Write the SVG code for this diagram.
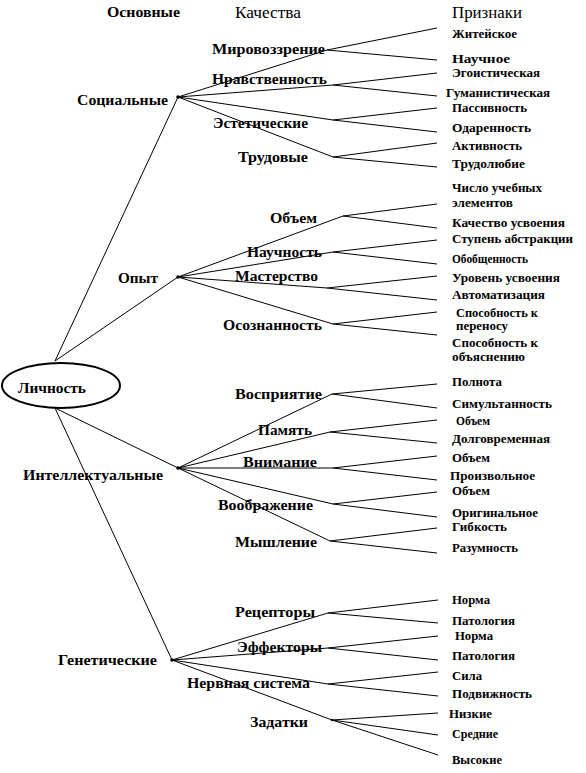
<svg xmlns="http://www.w3.org/2000/svg" width="586" height="773" viewBox="0 0 586 773">
<style>
text{font-family:"Liberation Serif","DejaVu Serif","Times New Roman",serif;fill:#000}
.h{font-size:16px}
.c{font-size:14px;font-weight:bold}
.q{font-size:14px;font-weight:bold}
.a{font-size:12px;font-weight:bold}
.ln{fill:none;stroke:#000;stroke-width:1}
.dot{fill:#000}
</style>
<rect width="586" height="773" fill="#fff"/>
<g id="headers">
<text class="c" x="107" y="17" textLength="73" lengthAdjust="spacingAndGlyphs">Основные</text>
<text class="h" x="235" y="18" textLength="66" lengthAdjust="spacingAndGlyphs">Качества</text>
<text class="h" x="452" y="18" textLength="70" lengthAdjust="spacingAndGlyphs">Признаки</text>
</g>
<g id="connectors">
<path class="ln" d="M55,361 L178,97 M55,361 L178,277 M55,408 L178,468 M55,408 L172,660"/>
<path class="ln" d="M178,97 L327,50 M437,28 L327,50 L437,60 M178,97 L333,85 M437,73 L333,85 L437,96 M178,97 L333,120 M437,108 L333,120 L437,132 M178,97 L333,157 M437,143 L333,157 L437,167"/>
<path class="ln" d="M178,277 L343,216 M437,204 L343,216 L437,228 M178,277 L333,252 M437,240 L333,252 L437,264 M178,277 L327,288 M437,276 L327,288 L437,300 M178,277 L333,324 M437,312 L333,324 L437,335"/>
<path class="ln" d="M178,468 L332,394 M437,384 L332,394 L437,408 M178,468 L330,432 M437,420 L330,432 L437,443 M178,468 L333,468 M437,456 L333,468 L437,480 M178,468 L333,504 M437,492 L333,504 L437,517 M178,468 L330,541 M437,528 L330,541 L437,553"/>
<path class="ln" d="M172,660 L328,613 M438,600 L328,613 L438,623 M172,660 L328,648 M438,636 L328,648 L438,660 M172,660 L328,684 M438,672 L328,684 L438,696 M172,660 L332,720 M438,713 L332,720 L438,735 M332,720 L438,755"/>
<circle class="dot" cx="178" cy="97" r="1.8"/>
<circle class="dot" cx="178" cy="277" r="1.8"/>
<circle class="dot" cx="178" cy="468" r="1.8"/>
<circle class="dot" cx="172" cy="660" r="1.8"/>
<circle class="dot" cx="332" cy="720" r="1.3"/>
</g>
<g id="lichnost">
<ellipse cx="61" cy="385.5" rx="59" ry="22.5" fill="none" stroke="#000" stroke-width="2"/>
<text class="q" x="18" y="393" textLength="68" lengthAdjust="spacingAndGlyphs">Личность</text>
</g>
<g id="socialnye">
<text class="c" x="77" y="105" textLength="91" lengthAdjust="spacingAndGlyphs">Социальные</text>
<text class="q" x="212" y="54" textLength="113" lengthAdjust="spacingAndGlyphs">Мировоззрение</text>
<text class="q" x="212" y="84" textLength="115" lengthAdjust="spacingAndGlyphs">Нравственность</text>
<text class="q" x="213" y="128" textLength="95" lengthAdjust="spacingAndGlyphs">Эстетические</text>
<text class="q" x="238" y="162" textLength="70" lengthAdjust="spacingAndGlyphs">Трудовые</text>
<text class="a" x="452" y="38" textLength="65" lengthAdjust="spacingAndGlyphs">Житейское</text>
<text class="a" x="452" y="63" textLength="58" lengthAdjust="spacingAndGlyphs">Научное</text>
<text class="a" x="452" y="77" textLength="88" lengthAdjust="spacingAndGlyphs">Эгоистическая</text>
<text class="a" x="446" y="97" textLength="104" lengthAdjust="spacingAndGlyphs">Гуманистическая</text>
<text class="a" x="452" y="112" textLength="75" lengthAdjust="spacingAndGlyphs">Пассивность</text>
<text class="a" x="452" y="132" textLength="79" lengthAdjust="spacingAndGlyphs">Одаренность</text>
<text class="a" x="452" y="150" textLength="70" lengthAdjust="spacingAndGlyphs">Активность</text>
<text class="a" x="452" y="168" textLength="73" lengthAdjust="spacingAndGlyphs">Трудолюбие</text>
</g>
<g id="opyt">
<text class="c" x="118" y="283" textLength="40" lengthAdjust="spacingAndGlyphs">Опыт</text>
<text class="q" x="270" y="223" textLength="47" lengthAdjust="spacingAndGlyphs">Объем</text>
<text class="q" x="247" y="257" textLength="75" lengthAdjust="spacingAndGlyphs">Научность</text>
<text class="q" x="235" y="281" textLength="83" lengthAdjust="spacingAndGlyphs">Мастерство</text>
<text class="q" x="223" y="330" textLength="99" lengthAdjust="spacingAndGlyphs">Осознанность</text>
<text class="a" x="452" y="192" textLength="90" lengthAdjust="spacingAndGlyphs">Число учебных</text>
<text class="a" x="452" y="207" textLength="61" lengthAdjust="spacingAndGlyphs">элементов</text>
<text class="a" x="452" y="227" textLength="113" lengthAdjust="spacingAndGlyphs">Качество усвоения</text>
<text class="a" x="452" y="243" textLength="121" lengthAdjust="spacingAndGlyphs">Ступень абстракции</text>
<text class="a" x="452" y="263" textLength="76" lengthAdjust="spacingAndGlyphs">Обобщенность</text>
<text class="a" x="452" y="282" textLength="108" lengthAdjust="spacingAndGlyphs">Уровень усвоения</text>
<text class="a" x="452" y="299" textLength="93" lengthAdjust="spacingAndGlyphs">Автоматизация</text>
<text class="a" x="456" y="317" textLength="82" lengthAdjust="spacingAndGlyphs">Способность к</text>
<text class="a" x="456" y="330" textLength="52" lengthAdjust="spacingAndGlyphs">переносу</text>
<text class="a" x="452" y="347" textLength="86" lengthAdjust="spacingAndGlyphs">Способность к</text>
<text class="a" x="452" y="361" textLength="73" lengthAdjust="spacingAndGlyphs">объяснению</text>
</g>
<g id="intellektualnye">
<text class="c" x="23" y="480" textLength="140" lengthAdjust="spacingAndGlyphs">Интеллектуальные</text>
<text class="q" x="235" y="399" textLength="87" lengthAdjust="spacingAndGlyphs">Восприятие</text>
<text class="q" x="258" y="435" textLength="54" lengthAdjust="spacingAndGlyphs">Память</text>
<text class="q" x="243" y="467" textLength="74" lengthAdjust="spacingAndGlyphs">Внимание</text>
<text class="q" x="218" y="510" textLength="95" lengthAdjust="spacingAndGlyphs">Воображение</text>
<text class="q" x="235" y="547" textLength="82" lengthAdjust="spacingAndGlyphs">Мышление</text>
<text class="a" x="452" y="386" textLength="50" lengthAdjust="spacingAndGlyphs">Полнота</text>
<text class="a" x="452" y="408" textLength="100" lengthAdjust="spacingAndGlyphs">Симультанность</text>
<text class="a" x="456" y="425" textLength="34" lengthAdjust="spacingAndGlyphs">Объем</text>
<text class="a" x="452" y="443" textLength="98" lengthAdjust="spacingAndGlyphs">Долговременная</text>
<text class="a" x="452" y="462" textLength="38" lengthAdjust="spacingAndGlyphs">Объем</text>
<text class="a" x="450" y="480" textLength="85" lengthAdjust="spacingAndGlyphs">Произвольное</text>
<text class="a" x="452" y="495" textLength="38" lengthAdjust="spacingAndGlyphs">Объем</text>
<text class="a" x="452" y="517" textLength="86" lengthAdjust="spacingAndGlyphs">Оригинальное</text>
<text class="a" x="452" y="531" textLength="55" lengthAdjust="spacingAndGlyphs">Гибкость</text>
<text class="a" x="452" y="552" textLength="66" lengthAdjust="spacingAndGlyphs">Разумность</text>
</g>
<g id="geneticheskie">
<text class="c" x="58" y="665" textLength="99" lengthAdjust="spacingAndGlyphs">Генетические</text>
<text class="q" x="235" y="617" textLength="80" lengthAdjust="spacingAndGlyphs">Рецепторы</text>
<text class="q" x="237" y="652" textLength="85" lengthAdjust="spacingAndGlyphs">Эффекторы</text>
<text class="q" x="187" y="688" textLength="123" lengthAdjust="spacingAndGlyphs">Нервная система</text>
<text class="q" x="250" y="727" textLength="58" lengthAdjust="spacingAndGlyphs">Задатки</text>
<text class="a" x="452" y="604" textLength="38" lengthAdjust="spacingAndGlyphs">Норма</text>
<text class="a" x="452" y="625" textLength="63" lengthAdjust="spacingAndGlyphs">Патология</text>
<text class="a" x="455" y="640" textLength="38" lengthAdjust="spacingAndGlyphs">Норма</text>
<text class="a" x="452" y="660" textLength="63" lengthAdjust="spacingAndGlyphs">Патология</text>
<text class="a" x="452" y="680" textLength="30" lengthAdjust="spacingAndGlyphs">Сила</text>
<text class="a" x="452" y="698" textLength="80" lengthAdjust="spacingAndGlyphs">Подвижность</text>
<text class="a" x="449" y="718" textLength="43" lengthAdjust="spacingAndGlyphs">Низкие</text>
<text class="a" x="452" y="738" textLength="46" lengthAdjust="spacingAndGlyphs">Средние</text>
<text class="a" x="452" y="764" textLength="50" lengthAdjust="spacingAndGlyphs">Высокие</text>
</g>
</svg>
